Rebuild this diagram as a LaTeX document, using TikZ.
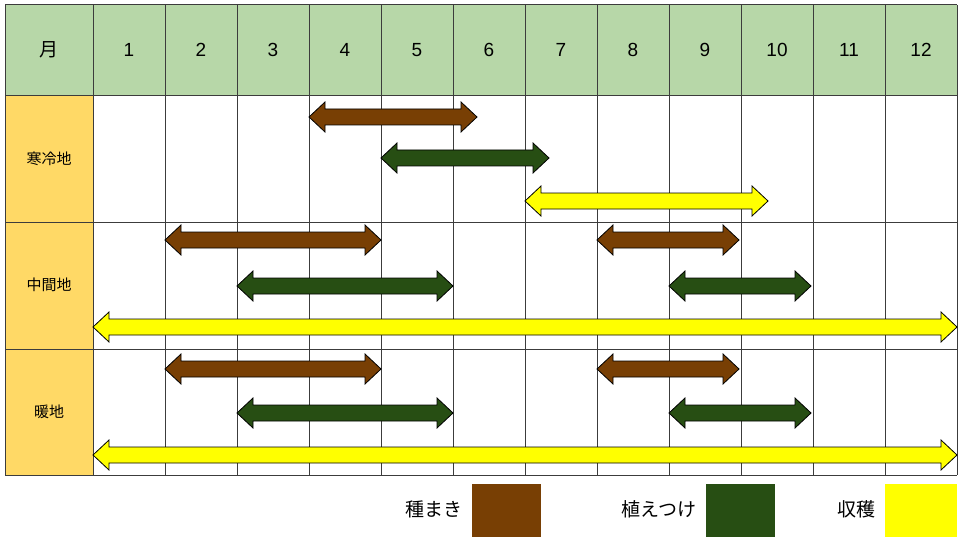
\documentclass[tikz,border=0pt]{standalone}
\usepackage{fontspec}
\setmainfont{Liberation Sans}
\newfontfamily\cjk{Noto Sans CJK JP}
\definecolor{head_green}{RGB}{183,215,168}
\definecolor{side_orange}{RGB}{255,217,102}
\definecolor{sow_brown}{RGB}{120,63,4}
\definecolor{plant_green}{RGB}{39,78,19}
\definecolor{crop_yell}{RGB}{255,255,0}
\definecolor{grid_gray}{RGB}{60,60,60}
% double headed block arrow: from x1 to x2 at height y
\newcommand\barrow[4]{%
  \filldraw[draw=black,fill=#4,line width=0.8pt]
   (#1,#3) -- ++(16,-15) -- ++(0,7) -- (#2-16,#3-8) -- ++(0,-7) -- (#2,#3)
   -- ++(-16,15) -- ++(0,-7) -- (#1+16,#3+8) -- ++(0,7) -- cycle;}
\begin{document}
\begin{tikzpicture}[x=1pt,y=-1pt]
    \tikzstyle{grid}=[draw=grid_gray, line width=1pt]
    \tikzstyle{month}=[font=\fontsize{19}{19}\selectfont]
    \tikzstyle{area}=[font=\cjk\fontsize{15}{15}\selectfont]
    \tikzstyle{legend}=[font=\cjk\fontsize{19}{19}\selectfont, anchor=east]
    \useasboundingbox (0,0) rectangle (960,540);
    \fill[head_green] (5,5) rectangle (957,96);
    \fill[side_orange] (5,96) rectangle (93,475);
    \foreach \y in {5,96,222,349,475} \draw[grid] (5,\y) -- (957,\y);
    \draw[grid] (5,5) -- (5,475);
    \foreach \i in {0,...,12} \draw[grid] (93+72*\i,5) -- (93+72*\i,475);
    \node[month,font=\cjk\fontsize{19}{19}\selectfont] (m0) at (49,50) {月};
    \foreach \i in {1,...,12} \node[month] (m\i) at (57+72*\i,50) {\i};
    \node[area] (cold) at (49,159) {寒冷地};
    \node[area] (mid)  at (49,285) {中間地};
    \node[area] (warm) at (49,412) {暖地};
    % cold
    \barrow{309}{477}{117}{sow_brown}
    \barrow{381}{549}{158}{plant_green}
    \barrow{525}{768}{201}{crop_yell}
    % middle
    \barrow{165}{381}{240}{sow_brown}
    \barrow{597}{739}{240}{sow_brown}
    \barrow{237}{453}{286}{plant_green}
    \barrow{669}{811}{286}{plant_green}
    \barrow{93}{957}{327}{crop_yell}
    % warm
    \barrow{165}{381}{369}{sow_brown}
    \barrow{597}{739}{369}{sow_brown}
    \barrow{237}{453}{413}{plant_green}
    \barrow{669}{811}{413}{plant_green}
    \barrow{93}{957}{455}{crop_yell}
    % legend
    \fill[sow_brown] (472,484) rectangle (541,537);
    \fill[plant_green] (706,484) rectangle (775,537);
    \fill[crop_yell] (885,484) rectangle (957,537);
    \node[legend] (sow)   at (466,509) {種まき};
    \node[legend] (plant) at (700,509) {植えつけ};
    \node[legend] (crop)  at (879,509) {収穫};
\end{tikzpicture}
\end{document}
